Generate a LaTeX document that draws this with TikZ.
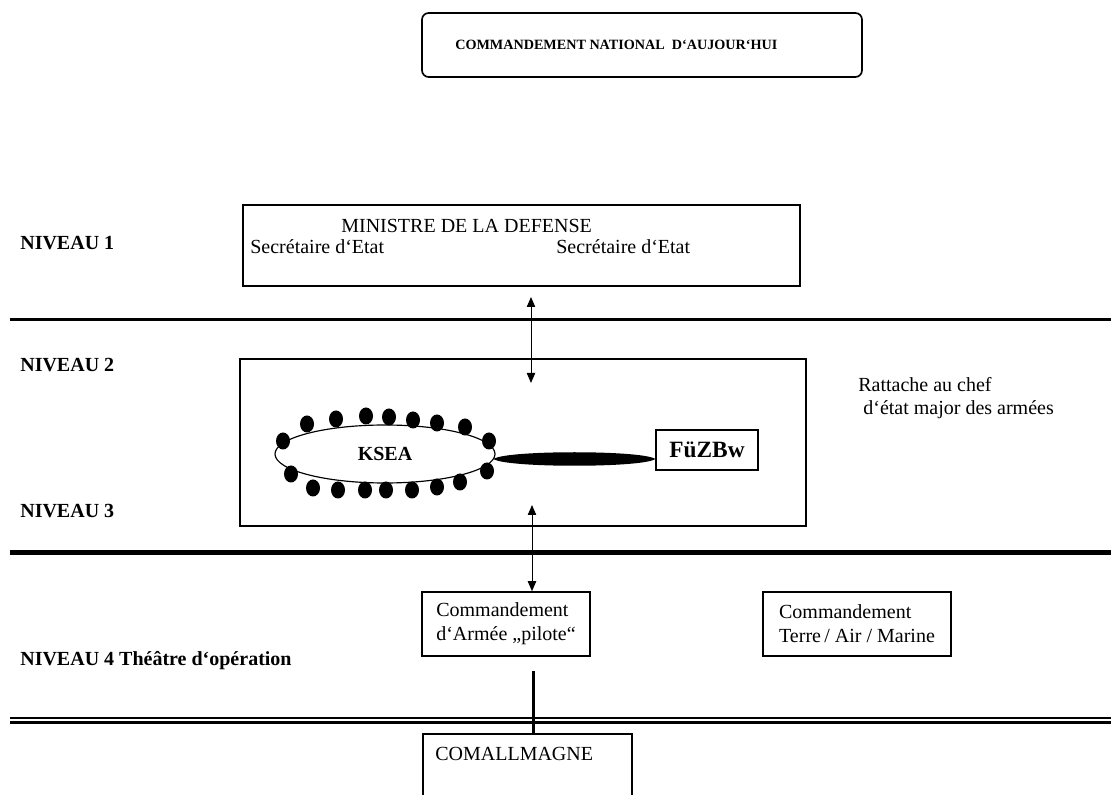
\documentclass[tikz,border=0pt]{standalone}
\usepackage{fontspec}
\setmainfont{Liberation Serif}
\usepackage{tikz}
\usetikzlibrary{shapes.geometric, arrows.meta, positioning, calc}

\begin{document}
\begin{tikzpicture}[
    x=0.6pt, y=-0.6pt,
    box/.style={
        draw=black,
        line width=0.9pt,
        rectangle,
        inner sep=0pt
    },
    cmdbox/.style={
        box,
        minimum height=38.4pt,
        align=left,
        font=\fontsize{12}{14.4}\selectfont
    },
    lvl/.style={
        anchor=base west,
        inner sep=0pt,
        font=\fontsize{12}{14}\selectfont\bfseries
    },
    txt/.style={
        anchor=base west,
        inner sep=0pt,
        font=\fontsize{12}{14}\selectfont
    },
    link/.style={
        {Triangle[length=6pt,width=5pt]}-{Triangle[length=6pt,width=5pt]},
        line width=0.6pt
    }
]
\useasboundingbox (0,0) rectangle (1111,795);

% Title
\node[box, rounded corners=4pt, line width=1pt, minimum width=264pt, minimum height=38.4pt] (title) at (642,45) {};
\node[lvl, font=\fontsize{8.5}{10}\selectfont\bfseries] (titletxt) at (455,50) {COMMANDEMENT NATIONAL\ \ D‘AUJOUR‘HUI};

% Levels
\node[lvl] (n1) at (20,250) {NIVEAU 1};
\node[lvl] (n2) at (20,372) {NIVEAU 2};
\node[lvl] (n3) at (20,518) {NIVEAU 3};
\node[lvl] (n4) at (20,666) {NIVEAU 4 Théâtre d‘opération};

\draw[line width=1.8pt] (10,320) -- (1111,320);
\draw[line width=3pt] (10,553) -- (1111,553);
\draw[line width=1.6pt] (10,718) -- (1111,718);
\draw[line width=1.6pt] (10,722.8) -- (1111,722.8);

% Niveau 1
\node[box, minimum width=334.2pt, minimum height=48.6pt] (min) at (521.5,245.5) {};
\node[txt] (mintxt) at (341,233) {MINISTRE DE LA DEFENSE};
\node[txt] (sec1) at (250,254) {Secrétaire d‘Etat};
\node[txt] (sec2) at (556,254) {Secrétaire d‘Etat};

% Niveau 2 / 3
\node[box, minimum width=339.6pt, minimum height=100.2pt] (lvl2) at (523,442.5) {};
\node[txt] (ratt1) at (858,392) {Rattache au chef};
\node[txt] (ratt2) at (863,415) {d‘état major des armées};

\node[draw, ellipse, line width=0.7pt, inner sep=0pt, minimum width=132pt, minimum height=34.8pt,
      font=\fontsize{12}{14}\selectfont\bfseries] (ksea) at (385,454) {KSEA\hspace{9pt}};
\foreach \dx/\dy in {-102/-13, -78/-30, -49/-35, -19/-38, 4/-37, 28/-34, 52/-31, 80/-27, 104/-13,
                     -94/20, -72/34, -47/36, -20/36, 1/36, 27/36, 52/33, 75/28, 102/17}
    \fill ($(ksea)+(\dx,\dy)$) ellipse [x radius=7, y radius=8.5];

\node[box, minimum width=61.2pt, minimum height=24pt, font=\fontsize{14}{16}\selectfont\bfseries] (fuz) at (707,450) {FüZBw};

\coordinate (lensA) at ($(ksea.east)+(-2,5)$);
\coordinate (lensB) at (fuz.west |- lensA);
\fill (lensA) .. controls ($(lensA)+(12,-9)$) and ($(lensB)+(-12,-9)$) .. (lensB)
              .. controls ($(lensB)+(-12,9)$) and ($(lensA)+(12,9)$) .. (lensA);

% Communication
\coordinate (up1) at (531,297);
\coordinate (dn1) at (531,383);
\draw[link] (up1) -- (dn1);

% Niveau 4
\node[cmdbox, minimum width=100.8pt] (cmdA) at (506,624) {Commandement\\d‘Armée „pilote“};
\node[cmdbox, minimum width=112.8pt] (cmdB) at (857,624) {Commandement\\Terre\,/ Air / Marine};

\coordinate (up2) at (532,505);
\draw[link] (up2) -- (cmdA.north -| up2);

% Comallmagne
\node[box, anchor=north west, minimum width=125.4pt, minimum height=60pt] (comall) at (422,733) {};
\node[txt] (comalltxt) at (435,760) {COMALLMAGNE};

\coordinate (tail) at (533,671);
\draw[line width=1.8pt] (tail) -- (tail |- comall.north);

\end{tikzpicture}
\end{document}
